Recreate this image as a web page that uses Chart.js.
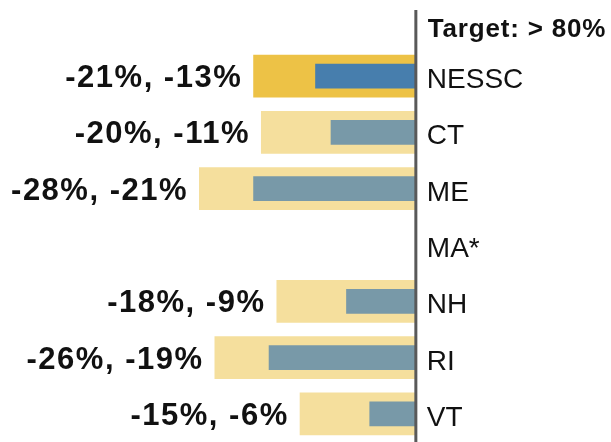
<!DOCTYPE html>
<html>
<head>
<meta charset="utf-8">
<script src="https://cdn.jsdelivr.net/npm/chart.js@4"></script>
<style>
  body { margin: 0; background: #fff; }
  canvas { display: block; }
</style>
</head>
<body>
<canvas id="myChart" width="611" height="442"></canvas>
<script>
// data
const states = ['NESSC', 'CT', 'ME', 'MA*', 'NH', 'RI', 'VT']
const lowValues = [-21, -20, -28, null, -18, -26, -15]   // wide yellow bars
const highValues = [-13, -11, -21, null, -9, -19, -6]    // narrow blue bars
const headerText = 'Target: > 80%'

const yellowCols = states.map((s, i) => i == 0 ? '#edc246' : '#f5df9d')
const blueCols = states.map((s, i) => i == 0 ? '#477ead' : '#7899a8')

// draws the centre line, header, state names and value labels
const annotate = {
    id: 'annotate',
    afterDatasetsDraw(chart) {
        const ctx = chart.ctx
        const x0 = chart.scales.x.getPixelForValue(0)
        const yScale = chart.scales.y
        ctx.save()
        ctx.strokeStyle = '#595959'
        ctx.lineWidth = 3
        ctx.beginPath()
        ctx.moveTo(x0, 10)
        ctx.lineTo(x0, chart.height)
        ctx.stroke()

        ctx.fillStyle = '#111'
        ctx.textAlign = 'left'
        ctx.textBaseline = 'alphabetic'
        ctx.letterSpacing = '0.8px'
        ctx.font = 'bold 26px "Liberation Sans", Arial, sans-serif'
        ctx.fillText(headerText, x0 + 12, 37)

        ctx.letterSpacing = '0px'
        ctx.font = '28px "Liberation Sans", Arial, sans-serif'
        states.forEach((s, i) => {
            ctx.fillText(s, x0 + 11, yScale.getPixelForValue(i) + 12)
        })

        const bars = chart.getDatasetMeta(1).data
        ctx.textAlign = 'right'
        ctx.letterSpacing = '1.5px'
        ctx.font = 'bold 31px "Liberation Sans", Arial, sans-serif'
        states.forEach((s, i) => {
            if (lowValues[i] == null) return
            const txt = lowValues[i] + '%, ' + highValues[i] + '%'
            ctx.fillText(txt, bars[i].x - 11, yScale.getPixelForValue(i) + 11)
        })
        ctx.restore()
    }
}

new Chart(document.getElementById('myChart'), {
    type: 'bar',
    data: {
        labels: states,
        datasets: [{
            data: highValues,
            backgroundColor: blueCols,
            barPercentage: 0.44,
            categoryPercentage: 1,
            order: 0
        }, {
            data: lowValues,
            backgroundColor: yellowCols,
            barPercentage: 0.76,
            categoryPercentage: 1,
            order: 1
        }]
    },
    options: {
        indexAxis: 'y',
        responsive: false,
        animation: false,
        grouped: false,
        layout: { padding: { top: 48, bottom: 0, left: 0, right: 0 } },
        plugins: { legend: { display: false }, tooltip: { enabled: false } },
        scales: {
            x: { min: -53.7, max: 25.2, display: false },
            y: { display: false, offset: true }
        }
    },
    plugins: [annotate]
})
</script>
</body>
</html>
